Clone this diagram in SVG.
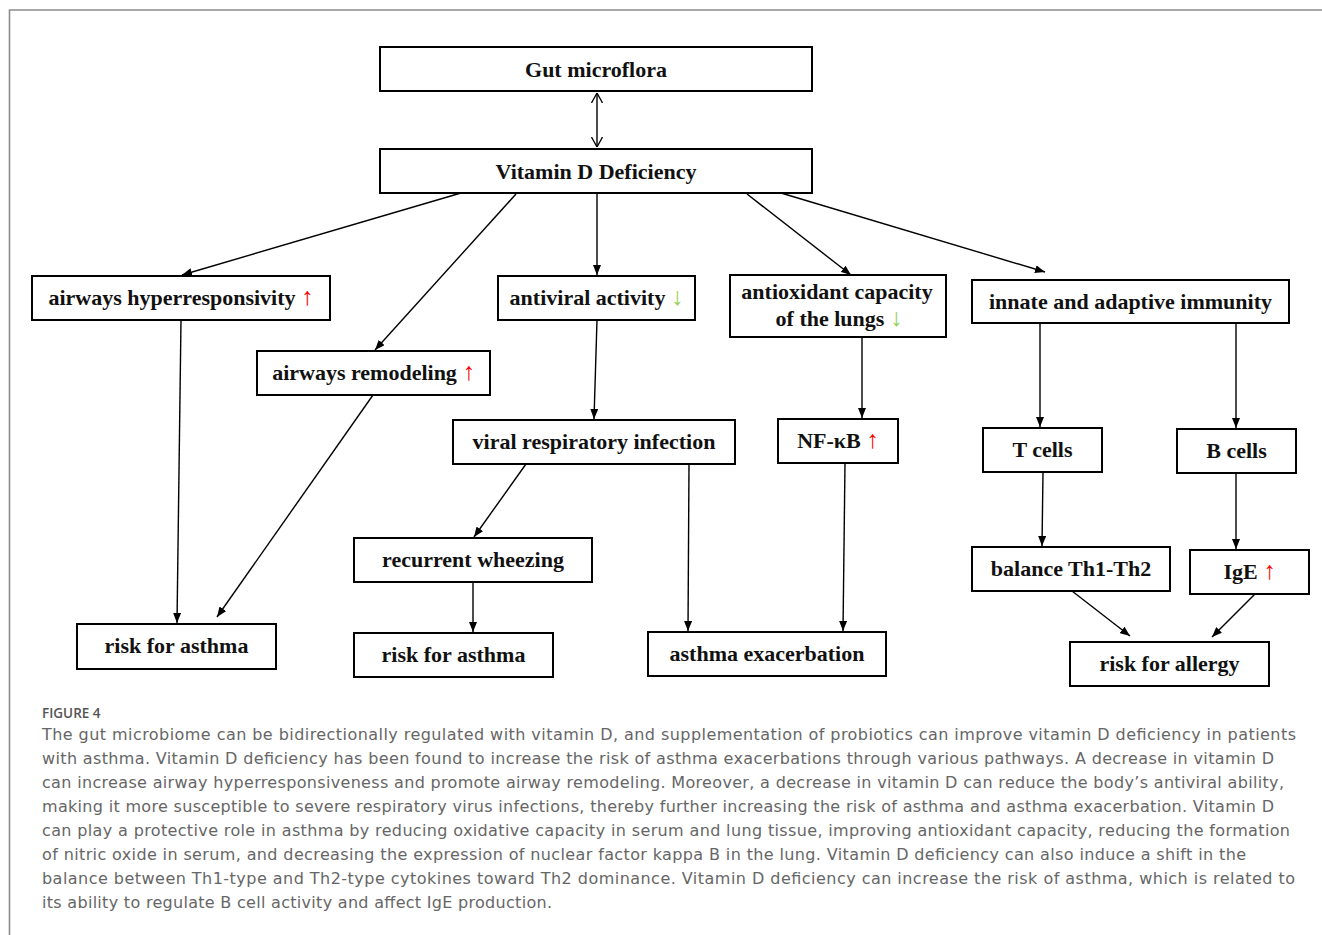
<svg xmlns="http://www.w3.org/2000/svg" width="1322" height="935" viewBox="0 0 1322 935">
<style>
.box{fill:#fff;stroke:#000;stroke-width:2}
.lbl{font-family:"Liberation Serif","Times New Roman",serif;font-weight:bold;font-size:22px;fill:#111;text-anchor:middle}
.up{fill:#ff0000;font-weight:normal;font-size:25px}
.dn{fill:#92d050;font-weight:normal;font-size:25px}
.con line{stroke:#000;stroke-width:1.4;fill:none}
.cap{font-family:"DejaVu Sans","Open Sans",sans-serif;font-size:16px;fill:#666}
</style>
<defs>
<marker id="ah" viewBox="0 0 10 8" refX="10" refY="4" markerWidth="10" markerHeight="8" markerUnits="userSpaceOnUse" orient="auto"><path d="M0,0 L10,4 L0,8 z" fill="#000"/></marker>
<marker id="oh" viewBox="0 0 10 12" refX="10" refY="6" markerWidth="10" markerHeight="12" markerUnits="userSpaceOnUse" orient="auto-start-reverse"><path d="M0,0.5 L10,6 L0,11.5" fill="none" stroke="#000" stroke-width="1.3"/></marker>
</defs>
<rect width="1322" height="935" fill="#fff"/>
<path d="M9.5,935 V10 H1322" fill="none" stroke="#8c8c8c" stroke-width="1.6"/>

<g id="connectors" class="con">
<line x1="597" y1="93" x2="597" y2="147" marker-start="url(#oh)" marker-end="url(#oh)"/>
<line x1="461" y1="193" x2="182" y2="275" marker-end="url(#ah)"/>
<line x1="516" y1="194" x2="375" y2="350" marker-end="url(#ah)"/>
<line x1="597" y1="193" x2="597" y2="275" marker-end="url(#ah)"/>
<line x1="747" y1="194" x2="851" y2="275" marker-end="url(#ah)"/>
<line x1="781" y1="193" x2="1045" y2="272" marker-end="url(#ah)"/>
<line x1="181" y1="320" x2="177" y2="623" marker-end="url(#ah)"/>
<line x1="373" y1="395" x2="217" y2="617" marker-end="url(#ah)"/>
<line x1="597" y1="320" x2="594" y2="419" marker-end="url(#ah)"/>
<line x1="526" y1="464" x2="474" y2="537" marker-end="url(#ah)"/>
<line x1="473" y1="582" x2="473" y2="632" marker-end="url(#ah)"/>
<line x1="689" y1="464" x2="688" y2="631" marker-end="url(#ah)"/>
<line x1="862" y1="337" x2="862" y2="418" marker-end="url(#ah)"/>
<line x1="845" y1="463" x2="843" y2="631" marker-end="url(#ah)"/>
<line x1="1040" y1="323" x2="1040" y2="427" marker-end="url(#ah)"/>
<line x1="1236" y1="323" x2="1236" y2="428" marker-end="url(#ah)"/>
<line x1="1043" y1="472" x2="1042" y2="546" marker-end="url(#ah)"/>
<line x1="1236" y1="473" x2="1236" y2="549" marker-end="url(#ah)"/>
<line x1="1072" y1="591" x2="1130" y2="636" marker-end="url(#ah)"/>
<line x1="1255" y1="594" x2="1212" y2="637" marker-end="url(#ah)"/>
</g>

<g id="gut"><rect class="box" x="380" y="47" width="432" height="44"/><text class="lbl" x="596" y="77">Gut microflora</text></g>
<g id="vitd"><rect class="box" x="380" y="149" width="432" height="44"/><text class="lbl" x="596" y="179">Vitamin D Deficiency</text></g>
<g id="hyper"><rect class="box" x="32" y="276" width="298" height="44"/><text class="lbl" x="181" y="305">airways hyperresponsivity <tspan class="up">↑</tspan></text></g>
<g id="antiviral"><rect class="box" x="498" y="276" width="197" height="44"/><text class="lbl" x="596.5" y="305">antiviral activity <tspan class="dn">↓</tspan></text></g>
<g id="antiox"><rect class="box" x="730" y="275" width="216" height="62"/><text class="lbl" x="837" y="299">antioxidant capacity</text><text class="lbl" x="839" y="326">of the lungs <tspan class="dn">↓</tspan></text></g>
<g id="innate"><rect class="box" x="972" y="280" width="317" height="43"/><text class="lbl" x="1130.5" y="309">innate and adaptive immunity</text></g>
<g id="remodel"><rect class="box" x="257" y="351" width="233" height="44"/><text class="lbl" x="373.5" y="380">airways remodeling <tspan class="up">↑</tspan></text></g>
<g id="viral"><rect class="box" x="453" y="420" width="282" height="44"/><text class="lbl" x="594" y="449">viral respiratory infection</text></g>
<g id="nfkb"><rect class="box" x="778" y="419" width="120" height="44"/><text class="lbl" x="838" y="448">NF-κB <tspan class="up">↑</tspan></text></g>
<g id="tcells"><rect class="box" x="983" y="428" width="119" height="44"/><text class="lbl" x="1042.5" y="457">T cells</text></g>
<g id="bcells"><rect class="box" x="1177" y="429" width="119" height="44"/><text class="lbl" x="1236.5" y="458">B cells</text></g>
<g id="wheeze"><rect class="box" x="354" y="538" width="238" height="44"/><text class="lbl" x="473" y="567">recurrent wheezing</text></g>
<g id="balance"><rect class="box" x="972" y="547" width="198" height="44"/><text class="lbl" x="1071" y="576">balance Th1-Th2</text></g>
<g id="ige"><rect class="box" x="1190" y="550" width="119" height="44"/><text class="lbl" x="1249.5" y="579">IgE <tspan class="up">↑</tspan></text></g>
<g id="risk1"><rect class="box" x="77" y="624" width="199" height="45"/><text class="lbl" x="176.5" y="653">risk for asthma</text></g>
<g id="risk2"><rect class="box" x="354" y="633" width="199" height="44"/><text class="lbl" x="453.5" y="662">risk for asthma</text></g>
<g id="exac"><rect class="box" x="648" y="632" width="238" height="44"/><text class="lbl" x="767" y="661">asthma exacerbation</text></g>
<g id="allergy"><rect class="box" x="1070" y="642" width="199" height="44"/><text class="lbl" x="1169.5" y="671">risk for allergy</text></g>

<g id="caption">
<text x="42" y="718" font-family="'Open Sans','Liberation Sans',sans-serif" font-size="13.5px" font-weight="600" fill="#555">FIGURE 4</text>
<text class="cap" x="42" y="740" textLength="1254" lengthAdjust="spacing">The gut microbiome can be bidirectionally regulated with vitamin D, and supplementation of probiotics can improve vitamin D deficiency in patients</text>
<text class="cap" x="42" y="764" textLength="1232" lengthAdjust="spacing">with asthma. Vitamin D deficiency has been found to increase the risk of asthma exacerbations through various pathways. A decrease in vitamin D</text>
<text class="cap" x="42" y="788" textLength="1242" lengthAdjust="spacing">can increase airway hyperresponsiveness and promote airway remodeling. Moreover, a decrease in vitamin D can reduce the body’s antiviral ability,</text>
<text class="cap" x="42" y="812" textLength="1232" lengthAdjust="spacing">making it more susceptible to severe respiratory virus infections, thereby further increasing the risk of asthma and asthma exacerbation. Vitamin D</text>
<text class="cap" x="42" y="836" textLength="1248" lengthAdjust="spacing">can play a protective role in asthma by reducing oxidative capacity in serum and lung tissue, improving antioxidant capacity, reducing the formation</text>
<text class="cap" x="42" y="860" textLength="1204" lengthAdjust="spacing">of nitric oxide in serum, and decreasing the expression of nuclear factor kappa B in the lung. Vitamin D deficiency can also induce a shift in the</text>
<text class="cap" x="42" y="884" textLength="1253" lengthAdjust="spacing">balance between Th1-type and Th2-type cytokines toward Th2 dominance. Vitamin D deficiency can increase the risk of asthma, which is related to</text>
<text class="cap" x="42" y="908" textLength="510" lengthAdjust="spacing">its ability to regulate B cell activity and affect IgE production.</text>
</g>
</svg>
